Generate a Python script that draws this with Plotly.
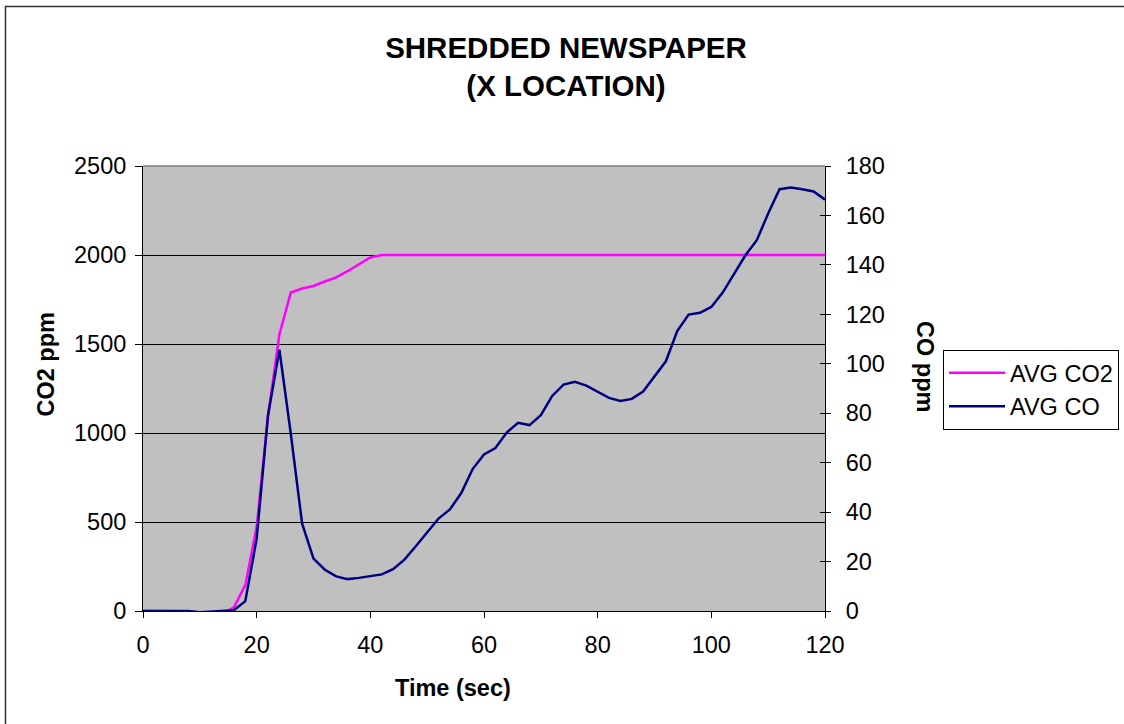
import plotly.graph_objects as go

time_sec = [0, 2, 4, 6, 8, 10, 12, 14, 16, 18, 20, 22, 24, 26, 28, 30, 32, 34, 36, 38,
            40, 42, 44, 46, 48, 50, 52, 54, 56, 58, 60, 62, 64, 66, 68, 70, 72, 74, 76, 78,
            80, 82, 84, 86, 88, 90, 92, 94, 96, 98, 100, 102, 104, 106, 108, 110, 112, 114,
            116, 118, 120]

avg_co2 = [0, 0, 0, -2, -5, -8, -10, -15, 20, 145, 473, 1094, 1554, 1789, 1812, 1826,
           1851, 1874, 1909, 1949, 1986, 2000, 2000, 2000, 2000, 2000, 2000, 2000, 2000,
           2000, 2000, 2000, 2000, 2000, 2000, 2000, 2000, 2000, 2000, 2000, 2000, 2000,
           2000, 2000, 2000, 2000, 2000, 2000, 2000, 2000, 2000, 2000, 2000, 2000, 2000,
           2000, 2000, 2000, 2000, 2000, 2000]

avg_co = [0, 0, 0, -0.2, 0, -0.5, -0.3, 0, 0.3, 4, 29.3, 79.2, 105.7, 71.8, 35.3, 21.2,
          16.7, 14.0, 12.9, 13.4, 14.0, 14.8, 16.9, 20.8, 26.2, 32.0, 37.4, 41.1, 47.7,
          57.4, 63.3, 65.9, 72.2, 76.1, 75.2, 79.2, 87.0, 91.6, 92.7, 91.2, 88.8, 86.2,
          85.0, 85.8, 88.8, 95.1, 101.0, 113.2, 119.9, 120.6, 123.0, 128.8, 136.5, 143.9,
          150.0, 160.8, 170.6, 171.3, 170.6, 169.7, 166.4]

x_ticks = [0, 20, 40, 60, 80, 100, 120]
co2_ticks = [0, 500, 1000, 1500, 2000, 2500]
co_ticks = [0, 20, 40, 60, 80, 100, 120, 140, 160, 180]

FONT = "Liberation Sans, Arial, sans-serif"
TF = 23.5

W, H = 1124, 724
# target plot area in screen pixels
SX0, SX1, SY0, SY1 = 143, 825, 166, 611
L = SX0
T = SY0
pw, ph = SX1 - SX0, SY1 - SY0
R = W - L - pw
B = H - T - ph

def px(xs):
    return (xs - SX0) / pw

def py(ys):
    return (SY1 - ys) / ph

fig = go.Figure()
fig.add_trace(go.Scatter(x=time_sec, y=avg_co2, mode="lines", name="AVG CO2",
                         line=dict(color="#FF00FF", width=2.5), yaxis="y"))
fig.add_trace(go.Scatter(x=time_sec, y=avg_co, mode="lines", name="AVG CO",
                         line=dict(color="#000080", width=2.5), yaxis="y2"))
fig.add_trace(go.Scatter(x=[None], y=[None], yaxis="y3", showlegend=False,
                         hoverinfo="skip"))

fig.update_layout(
    width=W, height=H,
    margin=dict(l=L, r=R, t=T, b=B, pad=0, autoexpand=False),
    paper_bgcolor="white",
    plot_bgcolor="#C0C0C0",
    font=dict(family=FONT, size=TF, color="black"),
    title=dict(text="<b>SHREDDED NEWSPAPER<br>(X LOCATION)</b>",
               font=dict(family=FONT, size=29.5, color="black"),
               x=566 / W, xref="container", xanchor="center",
               y=1 - 57.5 / H, yref="container", yanchor="middle"),
    xaxis=dict(range=[0, 120], tickvals=x_ticks, ticks="outside", ticklen=6,
               tickcolor="black", showline=True, linecolor="black", linewidth=1,
               showgrid=False, zeroline=False, tickfont=dict(size=TF),
               ticklabelstandoff=7),
    yaxis=dict(range=[0, 2500], tickvals=co2_ticks, ticks="outside", ticklen=7,
               tickcolor="black", showline=True, linecolor="black", linewidth=1,
               showgrid=True, gridcolor="#000000", gridwidth=1, zeroline=False,
               tickfont=dict(size=TF), ticklabelstandoff=4),
    yaxis2=dict(range=[0, 180], tickvals=co_ticks, ticks="outside", ticklen=5,
                tickcolor="black", showline=True, linecolor="black", linewidth=1,
                showgrid=False, zeroline=False, overlaying="y", side="right",
                tickfont=dict(size=TF), ticklabelstandoff=10),
    yaxis3=dict(range=[0, 180], tickvals=co_ticks, ticks="inside", ticklen=5,
                tickcolor="black", showline=False, showgrid=False, zeroline=False,
                overlaying="y", side="right", showticklabels=False),
    legend=dict(x=px(943), y=py(350), xanchor="left", yanchor="top",
                bgcolor="white", bordercolor="black", borderwidth=1,
                font=dict(size=TF), itemwidth=56),
    showlegend=True,
)

fig.add_annotation(text="<b>CO2 ppm</b>", xref="paper", yref="paper",
                   x=px(45.5), y=py(364), textangle=-90, showarrow=False,
                   font=dict(size=TF), xanchor="center", yanchor="middle")
fig.add_annotation(text="<b>CO ppm</b>", xref="paper", yref="paper",
                   x=px(925), y=py(366), textangle=90, showarrow=False,
                   font=dict(size=TF), xanchor="center", yanchor="middle")
fig.add_annotation(text="<b>Time (sec)</b>", xref="paper", yref="paper",
                   x=px(453), y=py(688), showarrow=False,
                   font=dict(size=TF), xanchor="center", yanchor="middle")

fig.add_shape(type="line", xref="paper", yref="paper", x0=0, x1=1, y0=1, y1=1,
              line=dict(color="#808080", width=1.5), layer="above")
fig.add_shape(type="rect", xref="paper", yref="paper",
              x0=px(5.5), x1=px(1140), y0=py(740), y1=py(6.5),
              line=dict(color="#333333", width=1.5), layer="above")

fig.write_html(
    "out.html",
    config={"displayModeBar": False},
    post_script="document.body.style.margin='0';document.body.style.overflow='hidden';",
)
